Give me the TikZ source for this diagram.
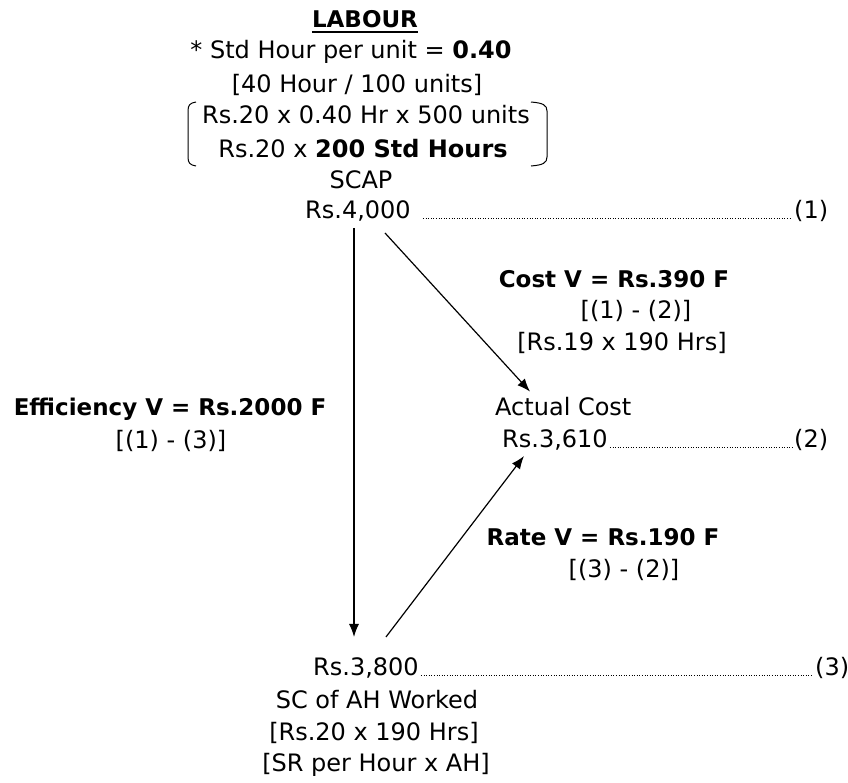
\documentclass[tikz,border=0pt]{standalone}
\usepackage{fontspec}
\setmainfont{DejaVu Sans}
\usetikzlibrary{arrows.meta,calc}
\begin{document}
\begin{tikzpicture}[x=1pt,y=-1pt,
  txt/.style={inner sep=0pt,anchor=base,font=\fontsize{24}{26}\selectfont},
  ltxt/.style={txt,anchor=base west},
  bld/.style={txt,font=\fontsize{23}{26}\selectfont\bfseries},
  dots/.style={line width=1pt,dash pattern=on 1pt off 1.6pt},
  arr/.style={line width=1.2pt,-{Latex[length=13pt,width=10pt]}},
  brk/.style={line width=1pt}]
\useasboundingbox (0,0) rectangle (848,782);
% heading block
\node[bld] (lab) at (365,27) {LABOUR};
\draw[line width=1.2pt] ($(lab.base west)+(0,5)$) -- ($(lab.base east)+(0,5)$);
\node[txt] (shu) at (351,58) {* Std Hour per unit = \textbf{0.40}};
\node[txt] (h100) at (357,92) {[40 Hour / 100 units]};
\node[txt] (f1) at (366,123) {Rs.20 x 0.40 Hr x 500 units};
\node[txt] (f2) at (363,157) {Rs.20 x \textbf{200 Std Hours}};
\draw[brk] (196,102) .. controls (190,103) and (188,105) .. (188,111) -- (188,157) .. controls (188,163) and (190,165) .. (196,166);
\draw[brk] (531,102) .. controls (543,103) and (547,105) .. (547,111) -- (547,157) .. controls (547,163) and (543,165) .. (531,166);
\node[txt] (scap) at (361,188) {SCAP};
\node[txt] (r1) at (358,218) {Rs.4,000};
\node[ltxt] (n1) at (794,218) {(1)};
\draw[dots] ($(r1.base east)+(12,0)$) -- ($(n1.base west)+(-2,0)$);
% cost variance
\node[bld] (cv) at (614,287) {Cost V = Rs.390 F};
\node[txt] (cv2) at (636,318) {[(1) - (2)]};
\node[txt] (cv3) at (622,350) {[Rs.19 x 190 Hrs]};
% efficiency variance
\node[bld] (ev) at (170,415) {Efficiency V = Rs.2000 F};
\node[txt] (ev2) at (171,448) {[(1) - (3)]};
% actual cost
\node[ltxt] (ac) at (495,415) {Actual Cost};
\node[ltxt] (r2) at (502,447) {Rs.3,610};
\node[ltxt] (n2) at (794,447) {(2)};
\draw[dots] ($(r2.base east)+(2,0)$) -- ($(n2.base west)+(-2,0)$);
% rate variance
\node[bld] (rv) at (603,545) {Rate V = Rs.190 F};
\node[txt] (rv2) at (624,577) {[(3) - (2)]};
% bottom
\node[ltxt] (r3) at (313,675) {Rs.3,800};
\node[ltxt] (n3) at (815,675) {(3)};
\draw[dots] ($(r3.base east)+(2,0)$) -- ($(n3.base west)+(-2,0)$);
\node[txt] (sc) at (377,708) {SC of AH Worked};
\node[txt] (sc2) at (374,740) {[Rs.20 x 190 Hrs]};
\node[txt] (sc3) at (376,771) {[SR per Hour x AH]};
% arrows
\coordinate (vtop) at ($(r1.south)+(-4,7)$);
\draw[arr] (vtop) -- ($(vtop |- r3.north)+(0,-20)$);
\draw[arr] ($(r1.south)+(27,12)$) -- ($(ac.north west)+(35,-5)$);
\draw[arr] ($(r3.north)+(20,-20)$) -- ($(r2.south west)+(22,6)$);
\end{tikzpicture}
\end{document}
